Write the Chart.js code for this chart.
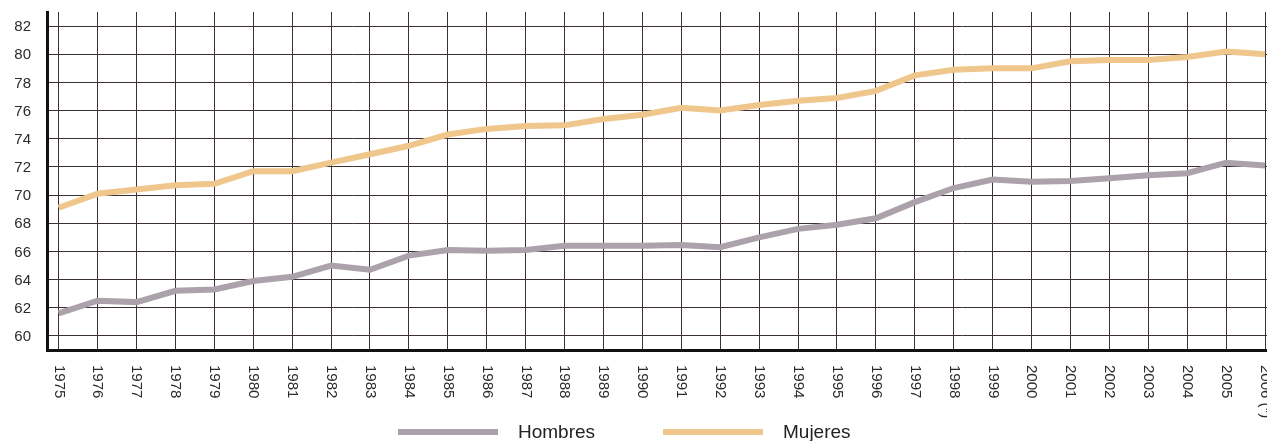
<!DOCTYPE html>
<html>
<head>
<meta charset="utf-8">
<script src="https://cdn.jsdelivr.net/npm/chart.js@4.4.1/dist/chart.umd.min.js"></script>
<style>
    html, body { margin: 0; padding: 0; background: #fff; }
    #wrap { width: 1267px; height: 441px; position: relative; }
</style>
</head>
<body>
<div id="wrap"><canvas id="myChart"></canvas></div>
<script>
var years = [1975, 1976, 1977, 1978, 1979, 1980, 1981, 1982, 1983, 1984, 1985, 1986, 1987, 1988, 1989, 1990,
    1991, 1992, 1993, 1994, 1995, 1996, 1997, 1998, 1999, 2000, 2001, 2002, 2003, 2004, 2005, 2006];
var yearLabels = ["1975", "1976", "1977", "1978", "1979", "1980", "1981", "1982", "1983", "1984", "1985", "1986",
    "1987", "1988", "1989", "1990", "1991", "1992", "1993", "1994", "1995", "1996", "1997", "1998", "1999",
    "2000", "2001", "2002", "2003", "2004", "2005", "2006 (*)"];
var hombres = [61.6, 62.5, 62.4, 63.2, 63.3, 63.9, 64.2, 65.0, 64.7, 65.7, 66.1, 66.05, 66.1, 66.4, 66.4, 66.4,
    66.45, 66.3, 67.0, 67.6, 67.9, 68.35, 69.5, 70.5, 71.1, 70.95, 71.0, 71.2, 71.4, 71.55, 72.3, 72.1];
var mujeres = [69.1, 70.1, 70.4, 70.7, 70.8, 71.7, 71.7, 72.3, 72.9, 73.5, 74.3, 74.7, 74.9, 74.95, 75.4, 75.7,
    76.2, 76.0, 76.4, 76.7, 76.9, 77.4, 78.5, 78.9, 79.0, 79.0, 79.5, 79.6, 79.6, 79.8, 80.2, 80.0];
var yTicks = [60, 62, 64, 66, 68, 70, 72, 74, 76, 78, 80, 82];

var colHombres = '#aba2ac';
var colMujeres = '#efc68b';

function toPoints(vals) {
    return years.map(function (yr, i) { return { x: yr, y: vals[i] }; });
}

// textos de los ejes (años girados, se leen de arriba a abajo) y leyenda
var extras = {
    id: 'extras',
    afterDraw: function (chart) {
        var ctx = chart.ctx;
        var xs = chart.scales.x;
        var ys = chart.scales.y;
        var bottom = chart.chartArea.bottom;
        ctx.save();
        ctx.fillStyle = '#2b2b2b';
        ctx.font = '15px "Liberation Sans", Arial, sans-serif';
        ctx.textBaseline = 'middle';

        ctx.textAlign = 'right';
        yTicks.forEach(function (v) {
            ctx.fillText(String(v), 31, ys.getPixelForValue(v) + 1);
        });

        ctx.textAlign = 'left';
        years.forEach(function (yr, i) {
            var px = xs.getPixelForValue(yr);
            ctx.save();
            ctx.translate(px, bottom + 15);
            ctx.rotate(Math.PI / 2);
            ctx.fillText(yearLabels[i], 0, 0);
            ctx.restore();
        });

        var items = [
            { text: 'Hombres', color: colHombres, x0: 398 },
            { text: 'Mujeres', color: colMujeres, x0: 663 }
        ];
        var ly = 432;
        ctx.font = '19px "Liberation Sans", Arial, sans-serif';
        items.forEach(function (it) {
            ctx.strokeStyle = it.color;
            ctx.lineWidth = 6;
            ctx.beginPath();
            ctx.moveTo(it.x0, ly);
            ctx.lineTo(it.x0 + 100, ly);
            ctx.stroke();
            ctx.fillStyle = '#222';
            ctx.fillText(it.text, it.x0 + 120, ly + 1);
        });
        ctx.restore();
    }
};

var ctx = document.getElementById('myChart').getContext('2d');
var myChart = new Chart(ctx, {
    type: 'line',
    data: {
        datasets: [{
            label: 'Hombres',
            data: toPoints(hombres),
            borderColor: colHombres,
            borderWidth: 6,
            pointRadius: 0,
            tension: 0
        }, {
            label: 'Mujeres',
            data: toPoints(mujeres),
            borderColor: colMujeres,
            borderWidth: 6,
            pointRadius: 0,
            tension: 0
        }]
    },
    options: {
        responsive: true,
        maintainAspectRatio: false,
        animation: false,
        layout: { padding: { top: 12, right: 0, bottom: 91, left: 0 } },
        plugins: {
            legend: { display: false },
            tooltip: { enabled: false }
        },
        scales: {
            x: {
                type: 'linear',
                min: 1974.7,
                max: 2006.05,
                afterBuildTicks: function (scale) {
                    scale.ticks = years.map(function (v) { return { value: v }; });
                },
                ticks: { display: false },
                grid: { color: '#3a3035', lineWidth: 1, drawTicks: false },
                border: { display: true, color: '#111', width: 3 }
            },
            y: {
                min: 59,
                max: 83,
                afterBuildTicks: function (scale) {
                    scale.ticks = yTicks.map(function (v) { return { value: v }; });
                },
                afterFit: function (scale) { scale.width = 47; },
                ticks: { display: false },
                grid: { color: '#3a3035', lineWidth: 1, drawTicks: false },
                border: { display: true, color: '#111', width: 3 }
            }
        }
    },
    plugins: [extras]
});
</script>
</body>
</html>
